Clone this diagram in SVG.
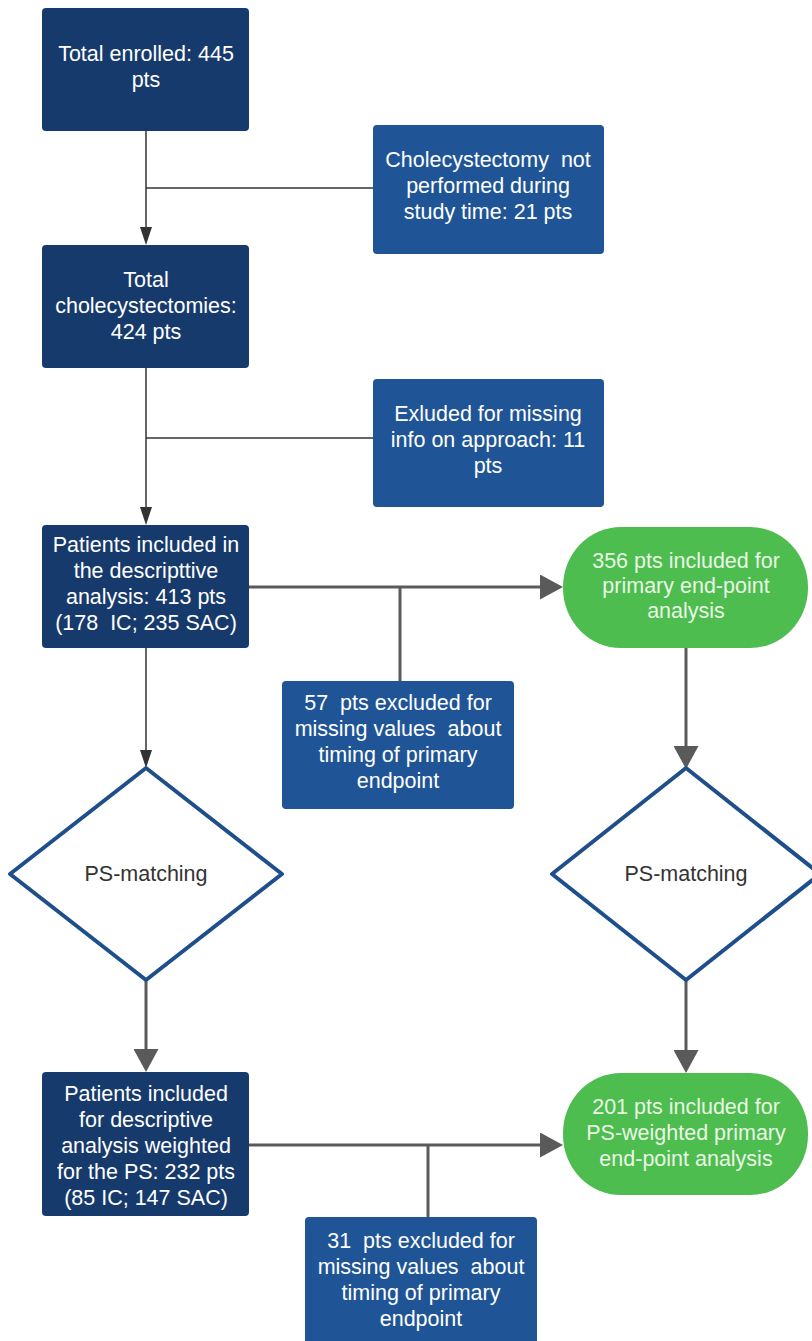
<svg xmlns="http://www.w3.org/2000/svg" width="812" height="1341" viewBox="0 0 812 1341">
<style>
.dark{fill:#173a6d}
.mid{fill:#1f5596}
.green{fill:#4dbd50}
.dia{fill:#ffffff;stroke:#1f4f8b;stroke-width:4;stroke-linejoin:round}
text{font-family:"Liberation Sans",Arial,sans-serif;font-size:21.5px;text-anchor:middle}
.w{fill:#ffffff}
.g{fill:#eaf6e4}
.k{fill:#333333}
.thin{fill:none;stroke:#333333;stroke-width:1.5}
.thick{fill:none;stroke:#5a5a5a;stroke-width:3}
</style>
<defs>
<marker id="aS" markerUnits="userSpaceOnUse" markerWidth="18" markerHeight="12" viewBox="0 0 18 12" refX="14" refY="6" orient="auto">
<path d="M0,0 L18,6 L0,12 z" fill="#333333"/>
</marker>
<marker id="aB" markerUnits="userSpaceOnUse" markerWidth="23" markerHeight="25" viewBox="0 0 23 25" refX="18" refY="12.5" orient="auto">
<path d="M0,0 L23,12.5 L0,25 z" fill="#5a5a5a"/>
</marker>
</defs>
<rect width="812" height="1341" fill="#ffffff"/>
<g id="connectors">
<path class="thin" d="M146,131 V241" marker-end="url(#aS)"/>
<path class="thin" d="M146,188 H373"/>
<path class="thin" d="M146,368 V521" marker-end="url(#aS)"/>
<path class="thin" d="M146,438 H373"/>
<path class="thin" d="M146,648 V764" marker-end="url(#aS)"/>
<path class="thick" d="M249,587 H558" marker-end="url(#aB)"/>
<path class="thick" d="M400,587 V681"/>
<path class="thick" d="M686,648 V764" marker-end="url(#aB)"/>
<path class="thick" d="M146,980 V1067" marker-end="url(#aB)"/>
<path class="thick" d="M686,980 V1068" marker-end="url(#aB)"/>
<path class="thick" d="M249,1145 H558" marker-end="url(#aB)"/>
<path class="thick" d="M428,1145 V1217"/>
</g>
<g id="n1">
<rect class="dark" x="42" y="8" width="207" height="123" rx="4"/>
<text class="w" x="146" y="61">Total enrolled: 445</text>
<text class="w" x="146" y="87">pts</text>
</g>
<g id="n2">
<rect class="mid" x="373" y="125" width="231" height="129" rx="4"/>
<text class="w" x="488" y="167" xml:space="preserve">Cholecystectomy  not</text>
<text class="w" x="488" y="193">performed during</text>
<text class="w" x="488" y="219">study time: 21 pts</text>
</g>
<g id="n3">
<rect class="dark" x="42" y="245" width="207" height="123" rx="4"/>
<text class="w" x="146" y="287">Total</text>
<text class="w" x="146" y="313">cholecystectomies:</text>
<text class="w" x="146" y="339">424 pts</text>
</g>
<g id="n4">
<rect class="mid" x="373" y="379" width="231" height="128" rx="4"/>
<text class="w" x="488" y="421">Exluded for missing</text>
<text class="w" x="488" y="447">info on approach: 11</text>
<text class="w" x="488" y="473">pts</text>
</g>
<g id="n5">
<rect class="dark" x="42" y="525" width="207" height="123" rx="4"/>
<text class="w" x="146" y="552">Patients included in</text>
<text class="w" x="146" y="578">the descripttive</text>
<text class="w" x="146" y="604">analysis: 413 pts</text>
<text class="w" x="146" y="630" xml:space="preserve">(178  IC; 235 SAC)</text>
</g>
<g id="n6">
<rect class="green" x="563" y="527" width="245" height="121" rx="58" ry="60"/>
<text class="g" x="686" y="568">356 pts included for</text>
<text class="g" x="686" y="593">primary end-point</text>
<text class="g" x="686" y="618">analysis</text>
</g>
<g id="n7">
<rect class="mid" x="282" y="681" width="232" height="128" rx="4"/>
<text class="w" x="398" y="710" xml:space="preserve">57  pts excluded for</text>
<text class="w" x="398" y="736" xml:space="preserve">missing values  about</text>
<text class="w" x="398" y="762">timing of primary</text>
<text class="w" x="398" y="788">endpoint</text>
</g>
<g id="n8">
<path class="dia" d="M146,768 L282,874 L146,980 L10,874 Z"/>
<text class="k" x="146" y="881">PS-matching</text>
</g>
<g id="n9">
<path class="dia" d="M686,768 L820,874 L686,980 L552,874 Z"/>
<text class="k" x="686" y="881">PS-matching</text>
</g>
<g id="n10">
<rect class="dark" x="42" y="1072" width="207" height="144" rx="4"/>
<text class="w" x="146" y="1101">Patients included</text>
<text class="w" x="146" y="1127">for descriptive</text>
<text class="w" x="146" y="1153">analysis weighted</text>
<text class="w" x="146" y="1179">for the PS: 232 pts</text>
<text class="w" x="146" y="1205">(85 IC; 147 SAC)</text>
</g>
<g id="n11">
<rect class="green" x="563" y="1073" width="245" height="122" rx="58" ry="60"/>
<text class="g" x="686" y="1114">201 pts included for</text>
<text class="g" x="686" y="1140">PS-weighted primary</text>
<text class="g" x="686" y="1166">end-point analysis</text>
</g>
<g id="n12">
<rect class="mid" x="305" y="1217" width="232" height="130" rx="4"/>
<text class="w" x="421" y="1248" xml:space="preserve">31  pts excluded for</text>
<text class="w" x="421" y="1274" xml:space="preserve">missing values  about</text>
<text class="w" x="421" y="1300">timing of primary</text>
<text class="w" x="421" y="1326">endpoint</text>
</g>
</svg>
